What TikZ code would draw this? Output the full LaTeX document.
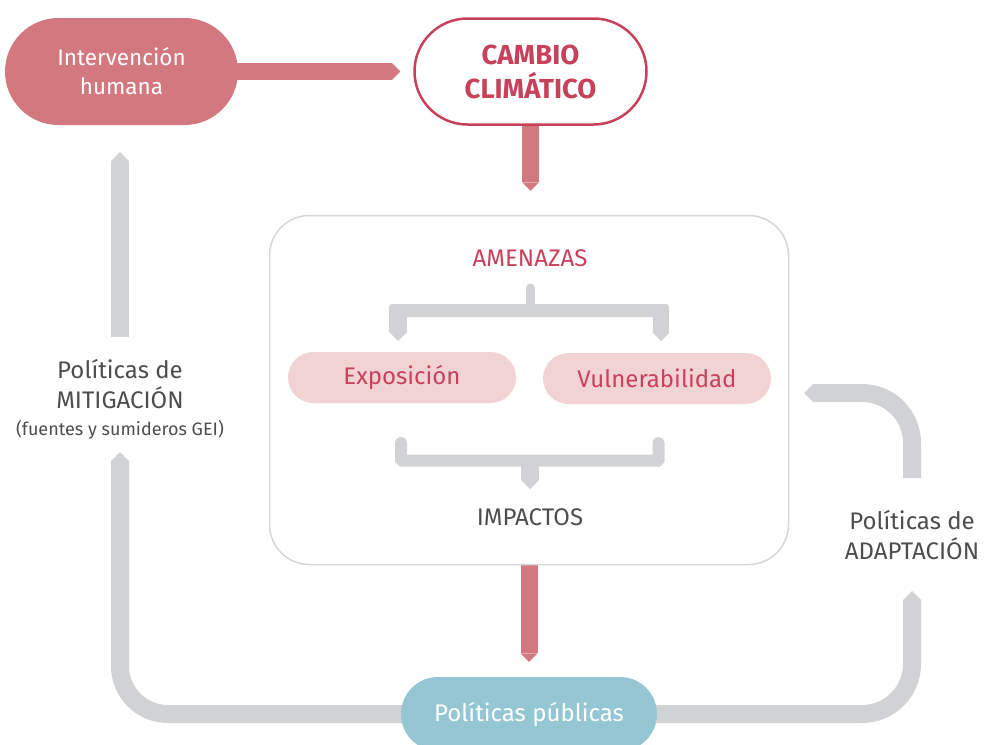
\documentclass[tikz,border=0pt]{standalone}
\usepackage{fontspec}
\setmainfont{Fira Sans}
\usetikzlibrary{arrows.meta,calc,positioning,backgrounds}

\definecolor{rosa}{HTML}{D4787F}
\definecolor{rojo}{HTML}{C8415B}
\definecolor{rosaclaro}{HTML}{F2D3D4}
\definecolor{turquesa}{HTML}{94C7D3}
\definecolor{grisflecha}{HTML}{D1D2D4}
\definecolor{grismarco}{HTML}{D6D6D6}
\definecolor{texto}{HTML}{4D4D4D}

\tikzset{
  pastilla/.style={rectangle, rounded corners=#1, inner sep=0pt, align=center},
  flecharoja/.style={line width=17pt, rosa, -{Triangle[length=0pt 0.5, width=0pt 1, line width=0pt]}},
  flechagris/.style={line width=18pt, grisflecha, -{Triangle[length=0pt 0.5, width=0pt 1, line width=0pt]}},
}

\begin{document}
\begin{tikzpicture}[x=1pt, y=-1pt]
			\tikzstyle{every node}=[font=\fontsize{24}{28}\selectfont, text=texto]
			\useasboundingbox (0,0) rectangle (984,744);
			% nodos
			\node [pastilla=53.5pt, fill=rosa, minimum width=233pt, minimum height=107pt, text=white, font=\fontsize{22.5}{29}\selectfont] (intervencion) at (121.5,71.5) {Intervención\\humana};
			\node [pastilla=53pt, draw=rojo, line width=2.5pt, fill=white, minimum width=232pt, minimum height=106pt, text=rojo, font=\fontsize{27.5}{34}\selectfont\bfseries] (cambio) at (530.5,71.5) {CAMBIO\\CLIMÁTICO};
			\node [draw=grismarco, line width=1.5pt, rounded corners=40pt, minimum width=519pt, minimum height=349pt] (marco) at (529,390) {};
			\node [text=rojo] (amenazas) at (530,258) {AMENAZAS};
			\node [pastilla=25.5pt, fill=rosaclaro, minimum width=228pt, minimum height=51pt, text=rojo] (exposicion) at (402,377.5) {Exposición};
			\node [pastilla=25.5pt, fill=rosaclaro, minimum width=228pt, minimum height=51pt, text=rojo] (vulnerabilidad) at (657,378.5) {Vulnerabilidad};
			\node (impactos) at (530,517) {IMPACTOS};
			\node [pastilla=37pt, fill=turquesa, minimum width=256pt, minimum height=74pt, text=white] (publicas) at (529,714) {Políticas públicas};
			\node (mit1) at (120,369) {Políticas de};
			\node (mit2) at (120,398) {MITIGACIÓN};
			\node [font=\fontsize{18}{20}\selectfont] (mit3) at (120,430) {(fuentes y sumideros GEI)};
			\node (ada1) at (912,520) {Políticas de};
			\node (ada2) at (912,549) {ADAPTACIÓN};
			% puntos libres
			\coordinate (tallo) at (530,288);
			\coordinate (rama) at (530,310.5);
			\coordinate (mitabajo) at (120,452);
			\coordinate (mitarriba) at (120,337);
			\coordinate (intabajo) at (120,152);
			\coordinate (adaabajo) at (912,591);
			\coordinate (adaarriba) at (912,478);
			\coordinate (vulpunta) at (804,393);
			% flechas
			\begin{scope}[on background layer]
				\draw [flecharoja] (intervencion.center) -- ($(cambio.west)+(-13,0)$);
				\draw [flecharoja] (cambio.center) -- ($(cambio.south |- marco.north)+(0,-24)$);
				\draw [flecharoja] (marco.south) -- ($(marco.south |- publicas.north)+(0,-15)$);
				\draw [flechagris, rounded corners=48pt] (publicas.center) -| (mitabajo);
				\draw [flechagris] (mitarriba) -- (intabajo);
				\draw [flechagris, rounded corners=50pt] (publicas.center) -| (adaabajo);
				\draw [flechagris, rounded corners=50pt] (adaarriba) |- (vulpunta);
			\end{scope}
			% llaves
			\draw [grisflecha, line width=9pt, line cap=round] (tallo) -- (rama);
			\fill [grisflecha, rounded corners=3pt] (389,304) rectangle (669,317);
			\draw [flechagris] (398,310) -- (398,341);
			\draw [flechagris, line width=16pt] (661,310) -- (661,341);
			\draw [grisflecha, line width=12pt, line cap=round, rounded corners=1pt] (401,443) -- (401,460.5) -- (658.5,460.5) -- (658.5,443);
			\draw [flechagris] (530,462) -- (530,489);
		\end{tikzpicture}
\end{document}
